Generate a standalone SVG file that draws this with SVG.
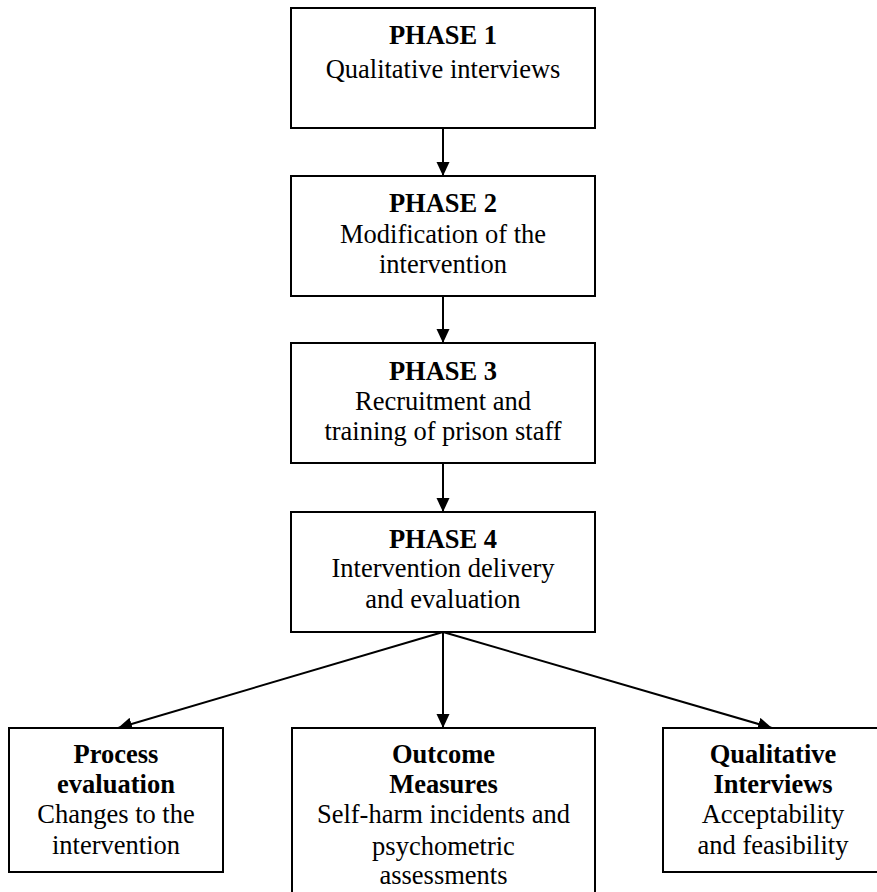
<svg xmlns="http://www.w3.org/2000/svg" width="877" height="892" viewBox="0 0 877 892">
<style>
.box{fill:#fff;stroke:#000;stroke-width:2}
text{font-family:'Liberation Serif',Tinos,'Times New Roman','DejaVu Serif',serif;font-size:26.5px;fill:#000;text-anchor:middle}
.b{font-weight:bold}
.c{fill:none;stroke:#000;stroke-width:2}
</style>
<defs>
<marker id="ah" markerUnits="userSpaceOnUse" markerWidth="15" markerHeight="14" refX="14" refY="6.5" orient="auto">
<path d="M0,0 L14,6.5 L0,13 z" fill="#000"/>
</marker>
</defs>
<rect width="877" height="892" fill="#fff"/>
<g id="connectors">
<line class="c" x1="443" y1="128" x2="443" y2="176" marker-end="url(#ah)"/>
<line class="c" x1="443" y1="296" x2="443" y2="343" marker-end="url(#ah)"/>
<line class="c" x1="443" y1="463" x2="443" y2="512" marker-end="url(#ah)"/>
<line class="c" x1="443" y1="632" x2="443" y2="728" marker-end="url(#ah)"/>
<line class="c" x1="443" y1="632" x2="118" y2="728" marker-end="url(#ah)"/>
<line class="c" x1="443" y1="632" x2="772" y2="728" marker-end="url(#ah)"/>
</g>
<g id="phase1">
<rect class="box" x="291" y="8" width="304" height="120"/>
<text x="443" y="44" class="b">PHASE 1</text>
<text x="443" y="78">Qualitative interviews</text>
</g>
<g id="phase2">
<rect class="box" x="291" y="176" width="304" height="120"/>
<text x="443" y="212" class="b">PHASE 2</text>
<text x="443" y="243">Modification of the</text>
<text x="443" y="273">intervention</text>
</g>
<g id="phase3">
<rect class="box" x="291" y="343" width="304" height="120"/>
<text x="443" y="380" class="b">PHASE 3</text>
<text x="443" y="410">Recruitment and</text>
<text x="443" y="440">training of prison staff</text>
</g>
<g id="phase4">
<rect class="box" x="291" y="512" width="304" height="120"/>
<text x="443" y="548" class="b">PHASE 4</text>
<text x="443" y="577">Intervention delivery</text>
<text x="443" y="608">and evaluation</text>
</g>
<g id="process">
<rect class="box" x="9" y="728" width="214" height="144"/>
<text x="116" y="763" class="b">Process</text>
<text x="116" y="793" class="b">evaluation</text>
<text x="116" y="823">Changes to the</text>
<text x="116" y="854">intervention</text>
</g>
<g id="outcome">
<rect class="box" x="292" y="728" width="303" height="180"/>
<text x="443.5" y="763" class="b">Outcome</text>
<text x="443.5" y="793" class="b">Measures</text>
<text x="443.5" y="823">Self-harm incidents and</text>
<text x="443.5" y="855">psychometric</text>
<text x="443.5" y="884">assessments</text>
</g>
<g id="qualitative">
<rect class="box" x="663" y="728" width="220" height="144"/>
<text x="773" y="763" class="b">Qualitative</text>
<text x="773" y="793" class="b">Interviews</text>
<text x="773" y="823">Acceptability</text>
<text x="773" y="854">and feasibility</text>
</g>
</svg>
